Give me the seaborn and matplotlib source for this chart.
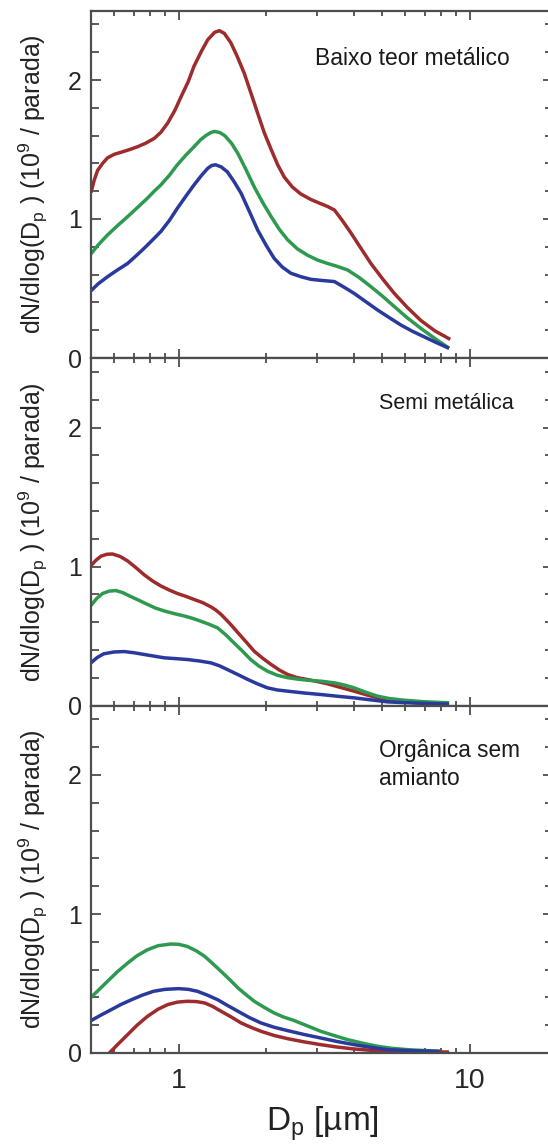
import numpy as np
import pandas as pd
import matplotlib
matplotlib.use("Agg")
import matplotlib.pyplot as plt
from matplotlib.ticker import FixedLocator, FixedFormatter, MultipleLocator, NullFormatter
import seaborn as sns

# ---------------------------------------------------------------- data
# Particle size distributions, dN/dlog(Dp) in 10^9 particles per stop,
# for three brake-pad types and three test conditions (red, green, blue).

panel_titles = ["Baixo teor metálico", "Semi metálica", "Orgânica sem\namianto"]
title_sizes = [16.5, 15.5, 16.3]
series_names = ["vermelho", "verde", "azul"]
series_colors = ["#9e2c2c", "#2e9a4f", "#2a3a9c"]

# Baixo teor metálico
bt_red_x = [0.50, 0.513, 0.527, 0.548, 0.57, 0.60, 0.634, 0.68, 0.723, 0.77, 0.825, 0.87,
            0.917, 0.97, 1.02, 1.08, 1.13, 1.20, 1.26, 1.33, 1.38, 1.435, 1.51, 1.59,
            1.68, 1.77, 1.87, 1.97, 2.08, 2.19, 2.31, 2.46, 2.63, 2.85, 3.08, 3.25,
            3.43, 3.65, 3.91, 4.23, 4.58, 5.02, 5.51, 6.1, 6.8, 7.6, 8.58]
bt_red_y = [1.19, 1.28, 1.35, 1.40, 1.44, 1.465, 1.48, 1.50, 1.52, 1.545, 1.58, 1.625,
            1.69, 1.78, 1.88, 1.99, 2.10, 2.21, 2.29, 2.343, 2.355, 2.336, 2.27, 2.17,
            2.05, 1.91, 1.76, 1.62, 1.50, 1.39, 1.30, 1.23, 1.18, 1.14, 1.11, 1.09,
            1.065, 0.99, 0.90, 0.79, 0.68, 0.57, 0.465, 0.365, 0.27, 0.195, 0.134]
bt_green_x = [0.50, 0.53, 0.57, 0.615, 0.668, 0.72, 0.782, 0.82, 0.869, 0.93, 0.99,
              1.06, 1.13, 1.19, 1.24, 1.29, 1.33, 1.385, 1.44, 1.52, 1.60, 1.70, 1.82,
              1.95, 2.08, 2.22, 2.37, 2.56, 2.77, 3.0, 3.25, 3.5, 3.81, 4.18, 4.58,
              5.02, 5.51, 6.1, 6.8, 7.6, 8.5]
bt_green_y = [0.75, 0.815, 0.885, 0.95, 1.017, 1.08, 1.15, 1.195, 1.245, 1.315, 1.39,
              1.46, 1.52, 1.57, 1.60, 1.622, 1.63, 1.622, 1.60, 1.545, 1.47, 1.36, 1.23,
              1.115, 1.017, 0.925, 0.85, 0.785, 0.74, 0.705, 0.68, 0.66, 0.633, 0.578, 0.513,
              0.445, 0.37, 0.29, 0.213, 0.14, 0.07]
bt_blue_x = [0.50, 0.53, 0.57, 0.615, 0.668, 0.71, 0.762, 0.81, 0.869, 0.93, 0.99,
             1.06, 1.13, 1.20, 1.26, 1.30, 1.34, 1.40, 1.47, 1.55, 1.64, 1.75, 1.87,
             2.0, 2.13, 2.27, 2.43, 2.63, 2.85, 3.1, 3.43, 3.7, 4.01, 4.4, 4.83,
             5.3, 5.81, 6.35, 6.97, 7.7, 8.5]
bt_blue_y = [0.484, 0.535, 0.585, 0.632, 0.68, 0.73, 0.79, 0.845, 0.91, 0.99, 1.077,
             1.165, 1.245, 1.315, 1.365, 1.385, 1.39, 1.375, 1.34, 1.27, 1.185, 1.055, 0.92,
             0.81, 0.717, 0.655, 0.61, 0.585, 0.566, 0.558, 0.55, 0.51, 0.465, 0.405, 0.345,
             0.29, 0.237, 0.193, 0.153, 0.11, 0.07]

# Semi metálica
sm_red_x = [0.50, 0.52, 0.541, 0.567, 0.593, 0.63, 0.668, 0.715, 0.762, 0.815, 0.869,
            0.93, 0.99, 1.06, 1.13, 1.21, 1.29, 1.34, 1.40, 1.50, 1.60, 1.71, 1.82,
            1.95, 2.08, 2.22, 2.37, 2.56, 2.77, 3.0, 3.25, 3.6, 4.01, 4.4, 4.83,
            5.3, 5.96, 7.0, 8.5]
sm_red_y = [1.007, 1.045, 1.074, 1.088, 1.09, 1.072, 1.04, 0.99, 0.94, 0.895, 0.86,
            0.83, 0.806, 0.785, 0.763, 0.74, 0.71, 0.688, 0.655, 0.59, 0.523, 0.455, 0.39,
            0.338, 0.295, 0.255, 0.223, 0.2, 0.187, 0.172, 0.156, 0.13, 0.103, 0.078, 0.055,
            0.042, 0.031, 0.021, 0.014]
sm_green_x = [0.50, 0.523, 0.548, 0.578, 0.609, 0.643, 0.68, 0.73, 0.782, 0.835, 0.893,
              0.97, 1.05, 1.12, 1.19, 1.27, 1.36, 1.45, 1.55, 1.66, 1.77, 1.89, 2.02,
              2.18, 2.37, 2.56, 2.77, 3.08, 3.43, 3.7, 4.01, 4.4, 4.83, 5.3, 5.96,
              7.0, 8.5]
sm_green_y = [0.72, 0.77, 0.806, 0.823, 0.827, 0.812, 0.787, 0.757, 0.727, 0.70, 0.68,
              0.66, 0.643, 0.626, 0.607, 0.585, 0.559, 0.51, 0.45, 0.39, 0.33, 0.283, 0.247,
              0.218, 0.20, 0.19, 0.182, 0.175, 0.163, 0.148, 0.127, 0.095, 0.067, 0.05, 0.038,
              0.027, 0.019]
sm_blue_x = [0.50, 0.525, 0.553, 0.60, 0.65, 0.70, 0.762, 0.83, 0.893, 0.98, 1.07,
             1.18, 1.29, 1.38, 1.47, 1.60, 1.73, 1.87, 2.02, 2.18, 2.37, 2.7, 3.08,
             3.5, 4.01, 4.6, 5.23, 6.5, 8.5]
sm_blue_y = [0.307, 0.345, 0.372, 0.385, 0.388, 0.38, 0.367, 0.354, 0.343, 0.337, 0.331,
             0.32, 0.307, 0.286, 0.259, 0.222, 0.187, 0.155, 0.127, 0.112, 0.103, 0.09, 0.079,
             0.067, 0.055, 0.04, 0.026, 0.017, 0.01]

# Orgânica sem amianto
og_red_x = [0.578, 0.62, 0.668, 0.72, 0.782, 0.85, 0.917, 0.99, 1.07, 1.15, 1.23,
            1.31, 1.40, 1.52, 1.64, 1.78, 1.92, 2.13, 2.37, 2.7, 3.08, 3.5, 4.01,
            4.6, 5.23, 6.5, 8.5]
og_red_y = [0.0, 0.065, 0.132, 0.2, 0.264, 0.315, 0.348, 0.366, 0.372, 0.37, 0.36,
            0.335, 0.30, 0.258, 0.216, 0.183, 0.156, 0.126, 0.103, 0.08, 0.06, 0.043, 0.029,
            0.019, 0.012, 0.009, 0.007]
og_green_x = [0.50, 0.535, 0.57, 0.615, 0.668, 0.72, 0.782, 0.85, 0.94, 1.0, 1.07,
              1.15, 1.23, 1.31, 1.40, 1.50, 1.60, 1.71, 1.82, 1.97, 2.13, 2.3, 2.50,
              2.77, 3.08, 3.43, 3.81, 4.3, 4.83, 5.4, 6.13, 7.9]
og_green_y = [0.40, 0.46, 0.516, 0.583, 0.647, 0.70, 0.743, 0.772, 0.784, 0.782, 0.767,
              0.735, 0.695, 0.643, 0.587, 0.527, 0.468, 0.417, 0.372, 0.328, 0.288, 0.258, 0.233,
              0.195, 0.156, 0.125, 0.096, 0.07, 0.048, 0.034, 0.024, 0.012]
og_blue_x = [0.50, 0.54, 0.587, 0.635, 0.69, 0.75, 0.82, 0.90, 1.0, 1.08, 1.16,
             1.25, 1.36, 1.47, 1.60, 1.75, 1.92, 2.13, 2.37, 2.7, 3.08, 3.5, 4.01,
             4.6, 5.23, 6.4, 7.9]
og_blue_y = [0.233, 0.272, 0.312, 0.35, 0.384, 0.416, 0.444, 0.458, 0.463, 0.458, 0.444,
             0.418, 0.384, 0.343, 0.30, 0.255, 0.216, 0.185, 0.161, 0.133, 0.108, 0.083, 0.06,
             0.04, 0.024, 0.016, 0.012]

panels = [
    [(bt_red_x, bt_red_y), (bt_green_x, bt_green_y), (bt_blue_x, bt_blue_y)],
    [(sm_red_x, sm_red_y), (sm_green_x, sm_green_y), (sm_blue_x, sm_blue_y)],
    [(og_red_x, og_red_y), (og_green_x, og_green_y), (og_blue_x, og_blue_y)],
]
# anchor of each panel's caption (Dp, dN)
title_pos = [(2.95, 2.235), (4.87, 2.245), (4.87, 2.26)]

x_major = [1, 10]
x_major_labels = ["1", "10"]
x_minor = [0.6, 0.7, 0.8, 0.9, 2, 3, 4, 5, 6, 7, 8, 9]
y_major = [0, 1, 2]

# ---------------------------------------------------------------- style
sns.set_theme(style="ticks")
plt.rcParams["font.family"] = ["Liberation Sans", "DejaVu Sans"]
plt.rcParams["mathtext.fontset"] = "custom"
plt.rcParams["mathtext.rm"] = "Liberation Sans"
plt.rcParams["mathtext.it"] = "Liberation Sans:italic"
plt.rcParams["mathtext.bf"] = "Liberation Sans:bold"

W, H = 548, 1147
fig = plt.figure(figsize=(W / 100, H / 100), dpi=100)

frame_color = "#4d4d4d"
left_px, right_px = 91, 553
panel_h = 347.5
bottom_px = 1053  # zero line of the lowest panel
xlim = (0.5, 0.5 * 10 ** ((right_px - left_px) / 291.0))

axes = []
for i in range(3):
    zero_px = bottom_px - (2 - i) * panel_h
    ax = fig.add_axes([left_px / W, (H - zero_px) / H,
                       (right_px - left_px) / W, panel_h / H])
    axes.append(ax)

    rows = []
    for name, (xs, ys) in zip(series_names, panels[i]):
        for xv, yv in zip(xs, ys):
            rows.append({"Dp": xv, "dN": yv, "serie": name})
    df = pd.DataFrame(rows)
    sns.lineplot(data=df, x="Dp", y="dN", hue="serie", hue_order=series_names,
                 palette=series_colors, estimator=None, sort=False,
                 linewidth=2.5, legend=False, ax=ax,
                 solid_joinstyle="round", solid_capstyle="butt")

    ax.set_xscale("log")
    ax.set_xlim(*xlim)
    ax.set_ylim(0, 2.5)

    ax.xaxis.set_major_locator(FixedLocator(x_major))
    ax.xaxis.set_minor_locator(FixedLocator(x_minor))
    ax.xaxis.set_minor_formatter(NullFormatter())
    if i == 2:
        ax.xaxis.set_major_formatter(FixedFormatter(x_major_labels))
    else:
        ax.xaxis.set_major_formatter(NullFormatter())
    ax.yaxis.set_major_locator(FixedLocator(y_major))
    ax.yaxis.set_minor_locator(MultipleLocator(0.2))

    ax.tick_params(axis="both", which="both", direction="in",
                   top=True, right=True, color=frame_color, width=1.3)
    ax.tick_params(axis="x", which="major", length=6.5, labelsize=20.5, pad=11)
    ax.tick_params(axis="x", which="minor", length=3.5)
    ax.tick_params(axis="y", which="major", length=7.5, labelsize=18, pad=6.5)
    ax.tick_params(axis="y", which="minor", length=6)
    for s in ax.spines.values():
        s.set_color(frame_color)
        s.set_linewidth(1.6)

    ax.set_ylabel(r"dN/dlog(D$\mathregular{_p}$ ) (10$\mathregular{^9}$ / parada)",
                  fontsize=18, color="#222222")
    ax.yaxis.set_label_coords(-0.088, 0.5)
    ax.set_xlabel("")

    tx, ty = title_pos[i]
    ax.text(tx, ty, panel_titles[i], fontsize=title_sizes[i], color="#1a1a1a",
            ha="left", va="top", linespacing=1.3)

axes[2].set_xlabel(r"D$\mathregular{_p}$ [µm]", fontsize=24, color="#222222")
axes[2].xaxis.set_label_coords(0.5, -0.148)

fig.savefig("out.png", dpi=100)
